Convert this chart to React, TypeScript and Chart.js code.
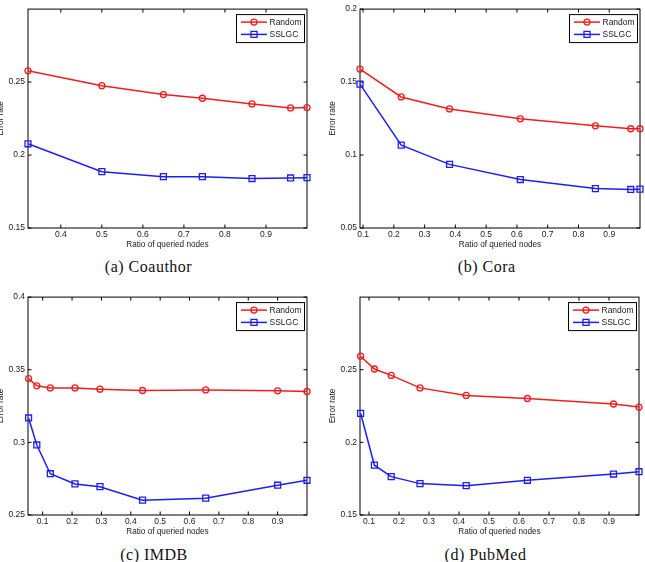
import React, { useEffect, useRef } from "react";
import { Chart, registerables } from "chart.js";

Chart.register(...registerables);

// ---------- Data ----------
const seriesNames = ["Random", "SSLGC"];

const coauthorX = [0.32, 0.5, 0.65, 0.745, 0.866, 0.96, 1.0];
const coauthorRandom = [0.2577, 0.2475, 0.2414, 0.2389, 0.235, 0.2323, 0.2325];
const coauthorSSLGC = [0.2077, 0.1886, 0.1852, 0.1852, 0.1839, 0.1843, 0.1845];

const coraX = [0.09, 0.224, 0.381, 0.611, 0.855, 0.97, 1.0];
const coraRandom = [0.1589, 0.1398, 0.1316, 0.1248, 0.12, 0.118, 0.118];
const coraSSLGC = [0.1486, 0.1068, 0.0936, 0.0832, 0.077, 0.0764, 0.0766];

const imdbX = [0.052, 0.08, 0.126, 0.21, 0.295, 0.44, 0.655, 0.9, 1.0];
const imdbRandom = [0.3439, 0.3389, 0.3375, 0.3375, 0.3366, 0.3357, 0.3361, 0.3355, 0.335];
const imdbSSLGC = [0.3168, 0.2982, 0.2784, 0.2714, 0.2695, 0.2602, 0.2616, 0.2705, 0.2739];

const pubmedX = [0.072, 0.118, 0.174, 0.27, 0.424, 0.628, 0.915, 1.0];
const pubmedRandom = [0.2593, 0.2505, 0.2461, 0.2375, 0.2323, 0.2302, 0.2264, 0.2243];
const pubmedSSLGC = [0.22, 0.1843, 0.1764, 0.1716, 0.1702, 0.1739, 0.1782, 0.1798];

const xTicksA = [0.4, 0.5, 0.6, 0.7, 0.8, 0.9];
const xTickLabelsA = ["0.4", "0.5", "0.6", "0.7", "0.8", "0.9"];
const xTicksB = [0.1, 0.2, 0.3, 0.4, 0.5, 0.6, 0.7, 0.8, 0.9];
const xTickLabelsB = ["0.1", "0.2", "0.3", "0.4", "0.5", "0.6", "0.7", "0.8", "0.9"];

const yTicksCoauthor = [0.15, 0.2, 0.25];
const yTickLabelsCoauthor = ["0.15", "0.2", "0.25"];
const yTicksCora = [0.05, 0.1, 0.15, 0.2];
const yTickLabelsCora = ["0.05", "0.1", "0.15", "0.2"];
const yTicksImdb = [0.25, 0.3, 0.35, 0.4];
const yTickLabelsImdb = ["0.25", "0.3", "0.35", "0.4"];
const yTicksPubmed = [0.15, 0.2, 0.25];
const yTickLabelsPubmed = ["0.15", "0.2", "0.25"];

const xTitle = "Ratio of queried nodes";
const yTitle = "Error rate";

// ---------- Styles ----------
const RED = "#f01e1e";
const BLUE = "#1e1ef0";
const TEXT = "#1a1a1a";
const SANS = "'Liberation Sans', Arial, Helvetica, sans-serif";
const Y_AXIS_W = 32;
const X_AXIS_H = 22;
const PAD_T = 6;
const PAD_R = 6;

type PanelProps = {
  left: number;
  top: number;
  plotW: number;
  plotH: number;
  xs: number[];
  random: number[];
  sslgc: number[];
  xMin: number;
  xMax: number;
  yMin: number;
  yMax: number;
  xTicks: number[];
  xTickLabels: string[];
  yTicks: number[];
  yTickLabels: string[];
};

const framePlugin = {
  id: "frame",
  beforeDatasetsDraw(chart: any) {
    const { ctx, chartArea: a, scales } = chart;
    ctx.save();
    ctx.strokeStyle = "#000";
    ctx.lineWidth = 1;
    ctx.strokeRect(a.left, a.top, a.right - a.left, a.bottom - a.top);
    const tl = 3.5;
    ctx.beginPath();
    scales.x.ticks.forEach((t: any) => {
      const px = scales.x.getPixelForValue(t.value);
      ctx.moveTo(px, a.bottom);
      ctx.lineTo(px, a.bottom - tl);
      ctx.moveTo(px, a.top);
      ctx.lineTo(px, a.top + tl);
    });
    scales.y.ticks.forEach((t: any) => {
      const py = scales.y.getPixelForValue(t.value);
      ctx.moveTo(a.left, py);
      ctx.lineTo(a.left + tl, py);
      ctx.moveTo(a.right, py);
      ctx.lineTo(a.right - tl, py);
    });
    ctx.stroke();
    ctx.restore();
  },
};

const legendPlugin = {
  id: "matlabLegend",
  afterDatasetsDraw(chart: any) {
    const { ctx, chartArea: a } = chart;
    const w = 68;
    const h = 28;
    const bx = a.right - 3 - w;
    const by = a.top + 5;
    ctx.save();
    ctx.fillStyle = "#fff";
    ctx.fillRect(bx, by, w, h);
    ctx.strokeStyle = "#000";
    ctx.lineWidth = 1;
    ctx.strokeRect(bx + 0.5, by + 0.5, w, h);
    chart.data.datasets.forEach((ds: any, i: number) => {
      const y = by + 8 + i * 12.3;
      ctx.strokeStyle = ds.borderColor;
      ctx.lineWidth = 1.5;
      ctx.beginPath();
      ctx.moveTo(bx + 5, y);
      ctx.lineTo(bx + 31, y);
      ctx.stroke();
      ctx.lineWidth = 1.3;
      ctx.beginPath();
      if (ds.pointStyle === "rect") {
        ctx.rect(bx + 18 - 3, y - 3, 6, 6);
      } else {
        ctx.arc(bx + 18, y, 3, 0, Math.PI * 2);
      }
      ctx.stroke();
      ctx.fillStyle = TEXT;
      ctx.font = `8.5px ${SANS}`;
      ctx.textBaseline = "middle";
      ctx.textAlign = "left";
      ctx.fillText(ds.label, bx + 33.5, y + 0.5);
    });
    ctx.restore();
  },
};

function Panel(p: PanelProps) {
  const ref = useRef<HTMLCanvasElement | null>(null);
  const cw = Y_AXIS_W + p.plotW + PAD_R;
  const ch = PAD_T + p.plotH + X_AXIS_H;

  useEffect(() => {
    if (!ref.current) return;
    const tickFont = { family: SANS, size: 8.5 };
    const titleFont = { family: SANS, size: 8.2 };
    const chart = new Chart(ref.current, {
      type: "line",
      data: {
        datasets: [
          {
            label: seriesNames[0],
            data: p.xs.map((x, i) => ({ x, y: p.random[i] })),
            borderColor: RED,
            borderWidth: 1.5,
            pointStyle: "circle",
            pointRadius: 3,
            pointBorderColor: RED,
            pointBackgroundColor: "rgba(0,0,0,0)",
            pointBorderWidth: 1.3,
            tension: 0,
            clip: false,
          } as any,
          {
            label: seriesNames[1],
            data: p.xs.map((x, i) => ({ x, y: p.sslgc[i] })),
            borderColor: BLUE,
            borderWidth: 1.5,
            pointStyle: "rect",
            pointRadius: 4.2,
            pointBorderColor: BLUE,
            pointBackgroundColor: "rgba(0,0,0,0)",
            pointBorderWidth: 1.3,
            tension: 0,
            clip: false,
          } as any,
        ],
      },
      options: {
        animation: false,
        responsive: false,
        maintainAspectRatio: false,
        events: [],
        layout: { padding: { top: PAD_T, right: PAD_R, left: 0, bottom: 0 } },
        plugins: { legend: { display: false }, tooltip: { enabled: false } },
        scales: {
          x: {
            type: "linear",
            min: p.xMin,
            max: p.xMax,
            afterBuildTicks: (s: any) => {
              s.ticks = p.xTicks.map((v) => ({ value: v }));
            },
            afterFit: (s: any) => {
              s.height = X_AXIS_H;
            },
            grid: { display: false, drawTicks: false },
            border: { display: false },
            ticks: {
              autoSkip: false,
              maxRotation: 0,
              padding: 2,
              color: TEXT,
              font: tickFont,
              callback: (_v: any, i: number) => p.xTickLabels[i],
            },
            title: { display: true, text: xTitle, color: TEXT, font: titleFont, padding: 0 },
          },
          y: {
            type: "linear",
            min: p.yMin,
            max: p.yMax,
            afterBuildTicks: (s: any) => {
              s.ticks = p.yTicks.map((v) => ({ value: v }));
            },
            afterFit: (s: any) => {
              s.width = Y_AXIS_W;
            },
            grid: { display: false, drawTicks: false },
            border: { display: false },
            ticks: {
              autoSkip: false,
              padding: 3,
              color: TEXT,
              font: tickFont,
              callback: (_v: any, i: number) => p.yTickLabels[i],
            },
            title: { display: true, text: yTitle, color: TEXT, font: titleFont, padding: 0 },
          },
        },
      } as any,
      plugins: [framePlugin, legendPlugin],
    });
    return () => chart.destroy();
  }, []);

  return (
    <canvas
      ref={ref}
      width={cw}
      height={ch}
      style={{
        position: "absolute",
        left: p.left - Y_AXIS_W,
        top: p.top - PAD_T,
        width: cw,
        height: ch,
      }}
    />
  );
}

function Caption({ cx, cy, text }: { cx: number; cy: number; text: string }) {
  return (
    <div
      style={{
        position: "absolute",
        left: cx - 100,
        top: cy - 10,
        width: 200,
        height: 20,
        lineHeight: "20px",
        textAlign: "center",
        fontFamily: "'Liberation Serif', 'Times New Roman', serif",
        fontSize: 16,
        letterSpacing: 0.5,
        color: "#111",
        whiteSpace: "nowrap",
      }}
    >
      {text}
    </div>
  );
}

export default function App() {
  return (
    <div
      style={{
        position: "fixed",
        left: 0,
        top: 0,
        width: 645,
        height: 562,
        overflow: "hidden",
        background: "#fff",
      }}
    >
      <Panel
        left={28}
        top={7}
        plotW={279}
        plotH={221}
        xs={coauthorX}
        random={coauthorRandom}
        sslgc={coauthorSSLGC}
        xMin={0.32}
        xMax={1.0}
        yMin={0.15}
        yMax={0.3}
        xTicks={xTicksA}
        xTickLabels={xTickLabelsA}
        yTicks={yTicksCoauthor}
        yTickLabels={yTickLabelsCoauthor}
      />
      <Panel
        left={360}
        top={7}
        plotW={280}
        plotH={221}
        xs={coraX}
        random={coraRandom}
        sslgc={coraSSLGC}
        xMin={0.09}
        xMax={1.0}
        yMin={0.05}
        yMax={0.2}
        xTicks={xTicksB}
        xTickLabels={xTickLabelsB}
        yTicks={yTicksCora}
        yTickLabels={yTickLabelsCora}
      />
      <Panel
        left={28}
        top={295}
        plotW={279}
        plotH={220}
        xs={imdbX}
        random={imdbRandom}
        sslgc={imdbSSLGC}
        xMin={0.05}
        xMax={1.0}
        yMin={0.25}
        yMax={0.4}
        xTicks={xTicksB}
        xTickLabels={xTickLabelsB}
        yTicks={yTicksImdb}
        yTickLabels={yTickLabelsImdb}
      />
      <Panel
        left={360}
        top={295}
        plotW={279}
        plotH={220}
        xs={pubmedX}
        random={pubmedRandom}
        sslgc={pubmedSSLGC}
        xMin={0.07}
        xMax={1.0}
        yMin={0.15}
        yMax={0.3}
        xTicks={xTicksB}
        xTickLabels={xTickLabelsB}
        yTicks={yTicksPubmed}
        yTickLabels={yTickLabelsPubmed}
      />
      <Caption cx={148.5} cy={266.5} text="(a) Coauthor" />
      <Caption cx={486.7} cy={266.5} text="(b) Cora" />
      <Caption cx={154} cy={555} text="(c) IMDB" />
      <Caption cx={485.5} cy={555} text="(d) PubMed" />
    </div>
  );
}
